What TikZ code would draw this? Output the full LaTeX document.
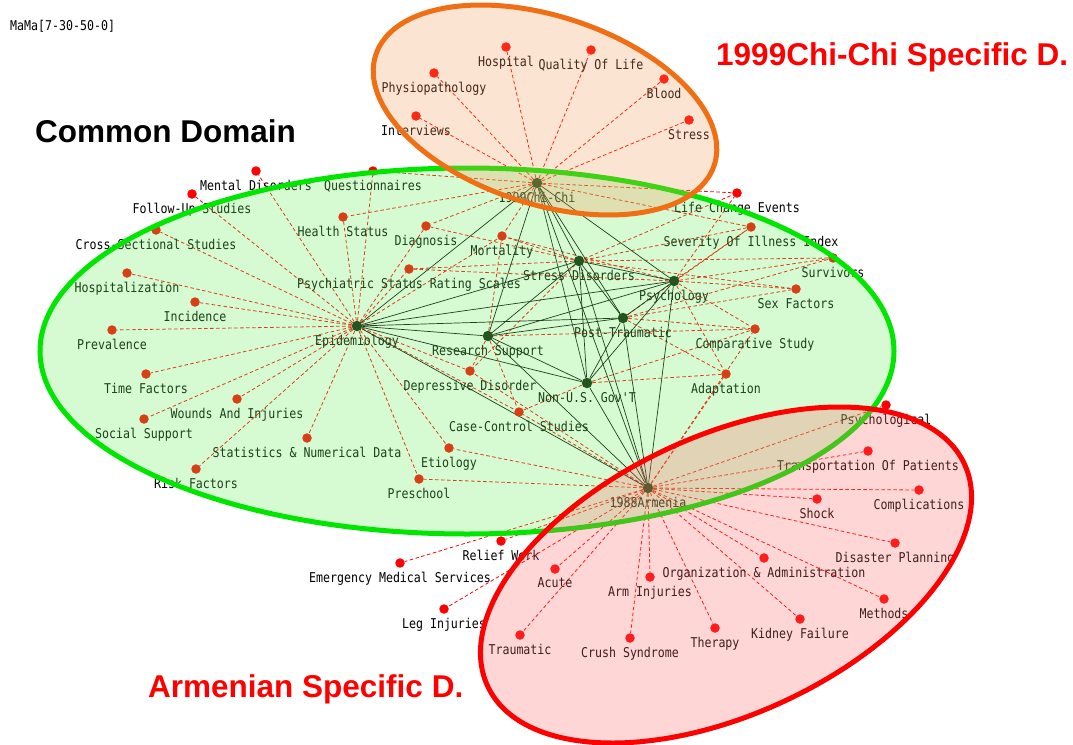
\documentclass[tikz,border=0pt]{standalone}
\usepackage{fontspec}
\setmainfont{Liberation Sans}
\newfontfamily\termfont[FakeStretch=0.86]{DejaVu Sans Mono}
\pgfdeclarelayer{background}
\pgfsetlayers{background,main}
\definecolor{chichiorange}{RGB}{240,110,20}
\definecolor{commongreen}{RGB}{0,230,0}
\definecolor{armred}{RGB}{255,0,0}
\definecolor{hubgreen}{RGB}{10,30,10}
\definecolor{greenfill}{RGB}{105,238,88}
\definecolor{orangefill}{RGB}{245,155,88}
\definecolor{redfill}{RGB}{255,105,105}
\def\reddot{\node[reddot]}
\def\hubdot{\node[hubdot]}

\begin{document}
\begin{tikzpicture}[x=1pt,y=-1pt,
  reddot/.style={circle,fill=red,inner sep=0pt,minimum size=9.5pt},
  hubdot/.style={circle,fill=hubgreen,inner sep=0pt,minimum size=10.5pt},
  term/.style={font=\termfont\fontsize{13.5}{14}\selectfont,inner sep=0pt,text=black},
  every label/.style={term},
  label distance=4pt,
  dashlink/.style={red,line width=0.8pt,dash pattern=on 3.5pt off 2.5pt},
  hublink/.style={black,line width=0.7pt},
  domainring/.style={line width=5pt,fill opacity=0.27},
  title/.style={font=\bfseries\fontsize{31.5}{34}\selectfont,inner sep=0pt,anchor=base west}]
\useasboundingbox (0,0) rectangle (1073,744);

% hubs
\hubdot (chichi) [label={below:1999Chi-Chi}] at (537,183) {};
\hubdot (epi) [label={below:Epidemiology}] at (357,326) {};
\hubdot (stress) [label={below:Stress Disorders}] at (579,261) {};
\hubdot (psych) [label={below:Psychology}] at (674,281) {};
\hubdot (research) [label={below:Research Support}] at (488,336) {};
\hubdot (post) [label={below:Post-Traumatic}] at (623,318) {};
\hubdot (nonus) [label={below:Non-U.S. Gov'T}] at (587,383) {};
\hubdot (armenia) [label={below:1988Armenia}] at (648,488) {};

% 1999 Chi-Chi terms
\reddot (hospital) [label={below:Hospital}] at (506,47) {};
\reddot (quality) [label={below:Quality Of Life}] at (591,50) {};
\reddot (physio) [label={below:Physiopathology}] at (434,73) {};
\reddot (blood) [label={below:Blood}] at (664,79) {};
\reddot (interviews) [label={below:Interviews}] at (416,116) {};
\reddot (stressc) [label={below:Stress}] at (689,120) {};

% common terms
\reddot (mental) [label={below:Mental Disorders}] at (256,171) {};
\reddot (followup) [label={below:Follow-Up Studies}] at (192,194) {};
\reddot (quest) [label={below:Questionnaires}] at (373,171) {};
\reddot (cross) [label={below:Cross-Sectional Studies}] at (156,230) {};
\reddot (health) [label={below:Health Status}] at (343,217) {};
\reddot (diag) [label={below:Diagnosis}] at (426,226) {};
\reddot (mortal) [label={below:Mortality}] at (502,236) {};
\reddot (psrs) [label={below:Psychiatric Status Rating Scales}] at (409,269) {};
\reddot (hospz) [label={below:Hospitalization}] at (127,273) {};
\reddot (incid) [label={below:Incidence}] at (195,302) {};
\reddot (preval) [label={below:Prevalence}] at (112,330) {};
\reddot (timef) [label={below:Time Factors}] at (146,374) {};
\reddot (wounds) [label={below:Wounds And Injuries}] at (237,399) {};
\reddot (social) [label={below:Social Support}] at (144,419) {};
\reddot (stats) [label={below:Statistics \& Numerical Data}] at (307,438) {};
\reddot (risk) [label={below:Risk Factors}] at (196,469) {};
\reddot (depress) [label={below:Depressive Disorder}] at (470,371) {};
\reddot (casec) [label={below:Case-Control Studies}] at (519,412) {};
\reddot (etiol) [label={below:Etiology}] at (449,448) {};
\reddot (presch) [label={below:Preschool}] at (419,479) {};
\reddot (life) [label={below:Life Change Events}] at (737,193) {};
\reddot (severity) [label={below:Severity Of Illness Index}] at (751,227) {};
\reddot (surv) [label={below:Survivors}] at (833,258) {};
\reddot (sexf) [label={below:Sex Factors}] at (796,289) {};
\reddot (compar) [label={below:Comparative Study}] at (755,329) {};
\reddot (adapt) [label={below:Adaptation}] at (726,374) {};

% 1988 Armenia terms
\reddot (psychol) [label={below:Psychological}] at (886,405) {};
\reddot (transp) [label={below:Transportation Of Patients}] at (868,451) {};
\reddot (compl) [label={below:Complications}] at (919,490) {};
\reddot (shock) [label={below:Shock}] at (817,499) {};
\reddot (disaster) [label={below:Disaster Planning}] at (895,543) {};
\reddot (organ) [label={below:Organization \& Administration}] at (764,558) {};
\reddot (arm) [label={below:Arm Injuries}] at (650,577) {};
\reddot (methods) [label={below:Methods}] at (884,599) {};
\reddot (therapy) [label={below:Therapy}] at (715,628) {};
\reddot (kidney) [label={below:Kidney Failure}] at (800,619) {};
\reddot (crush) [label={below:Crush Syndrome}] at (630,638) {};
\reddot (traum) [label={below:Traumatic}] at (520,635) {};
\reddot (acute) [label={below:Acute}] at (555,569) {};
\reddot (relief) [label={below:Relief Work}] at (501,541) {};
\reddot (ems) [label={below:Emergency Medical Services}] at (400,563) {};
\reddot (leg) [label={below:Leg Injuries}] at (444,609) {};

\begin{pgfonlayer}{background}
\foreach \h/\ts in {chichi/{hospital,quality,physio,blood,interviews,stressc,quest,health,diag,mortal,life,severity},
    epi/{mental,followup,cross,hospz,incid,preval,timef,wounds,social,stats,risk,quest,health,diag,mortal,psrs,depress,casec,etiol,presch},
    stress/{diag,mortal,psrs,life,severity,surv,sexf,depress},
    psych/{life,severity,surv,sexf,compar,adapt,mortal,psrs},
    post/{surv,sexf,compar,adapt,severity},
    research/{depress,casec,compar,mortal},
    nonus/{casec,compar,adapt},
    armenia/{casec,etiol,presch,depress,adapt,compar,psychol,transp,compl,shock,disaster,organ,arm,methods,therapy,kidney,crush,traum,acute,relief,ems,leg}}
  \foreach \t in \ts
    \draw[dashlink] (\h) -- (\t);
\foreach \a [count=\i] in {chichi,epi,stress,psych,research,post,nonus,armenia}
  \foreach \b [count=\j] in {chichi,epi,stress,psych,research,post,nonus,armenia}
    {\ifnum\j>\i \draw[hublink] (\a) -- (\b); \fi}
\end{pgfonlayer}

% domains
\draw[domainring,commongreen,fill=greenfill] (467,351) ellipse [x radius=427,y radius=183];
\draw[domainring,chichiorange,fill=orangefill] (545,110) ellipse [x radius=178,y radius=94,rotate=-18];
\draw[domainring,armred,fill=redfill] (726,575) ellipse [x radius=263,y radius=139,rotate=25];

\node[term,anchor=base west] (mama) at (10,30) {MaMa[7-30-50-0]};
\node[title] (commonttl) at (35,142) {Common Domain};
\node[title,text=armred] (chichittl) at (716,65) {1999Chi-Chi Specific D.};
\node[title,text=armred] (armttl) at (148,697) {Armenian Specific D.};
\end{tikzpicture}
\end{document}
